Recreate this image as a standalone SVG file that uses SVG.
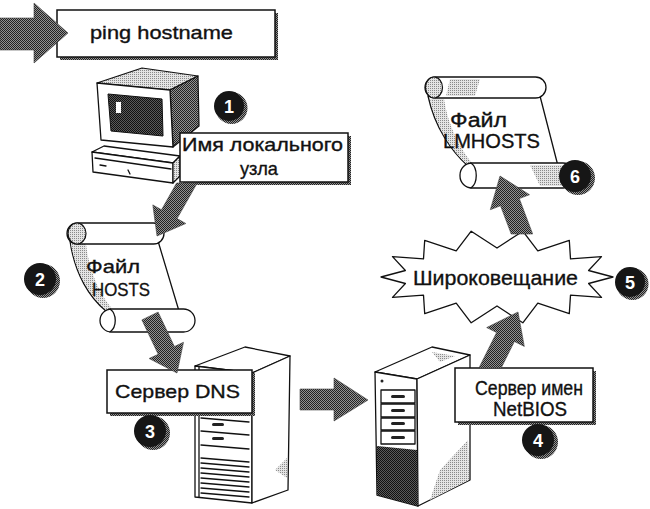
<svg xmlns="http://www.w3.org/2000/svg" width="650" height="509" viewBox="0 0 650 509">
  <defs>
    <!-- dithered fills used for arrows, shadows and shading -->
    <pattern id="dither" width="2" height="2" patternUnits="userSpaceOnUse">
      <rect width="2" height="2" fill="#929292"/>
      <rect width="1" height="1" fill="#222"/>
      <rect x="1" y="1" width="1" height="1" fill="#222"/>
    </pattern>
    <pattern id="ltdither" width="2" height="2" patternUnits="userSpaceOnUse">
      <rect width="2" height="2" fill="#e4e4e4"/>
      <rect width="1" height="1" fill="#8a8a8a"/>
    </pattern>
    <pattern id="dkdither" width="2" height="2" patternUnits="userSpaceOnUse">
      <rect width="2" height="2" fill="#5a5a5a"/>
      <rect width="1" height="1" fill="#111"/>
      <rect x="1" y="1" width="1" height="1" fill="#111"/>
    </pattern>
    <style>
      .box { fill:#fff; stroke:#111; stroke-width:1.5; }
      .shadow { fill:url(#dither); }
      .ln { fill:none; stroke:#111; stroke-width:1.3; stroke-linejoin:round; stroke-linecap:round; }
      .wf { fill:#fff; stroke:#111; stroke-width:1.3; stroke-linejoin:round; }
      .lt { fill:url(#ltdither); stroke:#111; stroke-width:1.2; stroke-linejoin:round; }
      .md { fill:url(#dither); stroke:#111; stroke-width:1.2; stroke-linejoin:round; }
      .lbl { font-family:"Liberation Sans", Arial, Helvetica, sans-serif; fill:#111; stroke:#111; stroke-width:0.35; }
      .arrow { fill:url(#dither); stroke:#444; stroke-width:0.6; stroke-linejoin:round; }
      .core { fill:#161616; }
      .num { font-family:"Liberation Sans", Arial, Helvetica, sans-serif; font-weight:bold; font-size:18px; fill:#fff; text-anchor:middle; }
      .slot { fill:#222; }
    </style>
  </defs>

  <rect width="650" height="509" fill="#fff"/>

  <!-- command box -->
  <g id="ping">
    <rect class="shadow" x="60" y="13" width="218" height="47"/>
    <rect class="box" x="57" y="10" width="218" height="47"/>
    <text class="lbl" x="90" y="39" style="font-size:19px" textLength="143" lengthAdjust="spacingAndGlyphs">ping hostname</text>
  </g>

  <!-- workstation -->
  <g id="computer">
    <polygon class="wf" points="92,152 104,146 180,156 173,163"/>
    <polygon class="wf" points="92,152 173,163 173,183 93,172"/>
    <polygon class="lt" points="173,163 180,156 180,176 173,183"/>
    <path class="ln" d="M95,158 L171,169" stroke-width="0.9"/>
    <path class="ln" d="M100,165 L106,166 M128,170 L130,174" stroke-width="0.8"/>
    <polygon class="lt" points="97,83 142,68 198,76 170,90"/>
    <polygon class="md" points="170,90 198,76 199,126 173,147"/>
    <polygon class="wf" points="97,83 170,90 173,147 101,140"/>
    <polygon points="108,94 162,99 163,136 111,131" fill="url(#dkdither)" stroke="#111" stroke-width="1"/>
    <rect x="116" y="102" width="5" height="11" fill="#fff"/>
  </g>

  <!-- local host name label -->
  <g id="local-name">
    <rect class="shadow" x="183" y="136" width="168" height="49"/>
    <rect class="box" x="180" y="133" width="168" height="49"/>
    <text class="lbl" x="182" y="151" style="font-size:18.5px" textLength="161" lengthAdjust="spacingAndGlyphs">Имя локального</text>
    <text class="lbl" x="240" y="175" style="font-size:18.5px" textLength="38" lengthAdjust="spacingAndGlyphs">узла</text>
  </g>

  <!-- HOSTS file scroll -->
  <g id="hosts">
    <path class="wf" d="M70,241 L158,241 L179,311 L106,311 C90,298 75,275 70,241 Z"/>
    <path d="M71,244 L86,244 C89,270 98,292 113,310 L106,310 C91,297 76,275 71,244 Z" fill="url(#ltdither)"/>
    <rect class="wf" x="67" y="223" width="97" height="21" rx="10.5"/>
    <ellipse class="lt" cx="77" cy="233.5" rx="9" ry="10.5"/>
    <rect class="wf" x="100" y="309" width="95" height="23" rx="11.5"/>
    <path class="ln" d="M110,309 C117,314 117,327 110,332"/>
    <text class="lbl" x="86" y="273" style="font-size:19px" textLength="54" lengthAdjust="spacingAndGlyphs">Файл</text>
    <text class="lbl" x="92" y="296" style="font-size:19px" textLength="58" lengthAdjust="spacingAndGlyphs">HOSTS</text>
  </g>

  <!-- DNS server -->
  <g id="dns">
    <polygon class="wf" points="195,366 245,347 290,356 252,373"/>
    <polygon class="wf" points="195,366 252,373 252,503 195,497"/>
    <polygon class="wf" points="252,373 290,356 288,490 252,503"/>
    <path d="M275,470 L287,458 L287,478 Z" fill="url(#ltdither)"/>
    <path class="ln" d="M199,367 L199,497" stroke-width="0.9"/>
    <path class="ln" d="M201,418 L249,422 M201,431 L249,435 M201,445 L249,449" stroke-width="1"/>
    <rect class="slot" x="212" y="423" width="12" height="3" rx="1.5"/>
    <rect class="slot" x="212" y="437" width="12" height="3" rx="1.5"/>
    <path class="ln" d="M201,458 L249,462 M201,463 L249,467 M201,468 L249,472 M201,473 L249,477 M201,478 L249,482 M201,483 L249,487 M201,488 L249,492 M201,493 L249,497" stroke-width="0.8"/>
    <rect class="shadow" x="110" y="373" width="145" height="43"/>
    <rect class="box" x="107" y="370" width="145" height="43"/>
    <text class="lbl" x="115" y="398" style="font-size:19px" textLength="125" lengthAdjust="spacingAndGlyphs">Сервер DNS</text>
  </g>

  <!-- NetBIOS name server -->
  <g id="netbios">
    <polygon class="wf" points="375,372 432,347 470,355 417,379"/>
    <path d="M432,352 L455,356 L440,362 Z" fill="url(#ltdither)"/>
    <polygon class="wf" points="375,372 417,379 418,506 377,495"/>
    <polygon class="wf" points="417,379 470,355 470,480 418,506"/>
    <path d="M440,470 L468,440 L469,480 L430,500 Z" fill="url(#ltdither)"/>
    <circle cx="382" cy="381" r="1.5" fill="#222"/>
    <rect class="wf" x="381" y="390" width="34" height="13" stroke-width="1"/>
    <rect class="wf" x="381" y="404" width="34" height="13" stroke-width="1"/>
    <rect class="wf" x="381" y="418" width="34" height="12" stroke-width="1"/>
    <rect class="wf" x="381" y="431" width="34" height="13" stroke-width="1"/>
    <rect class="slot" x="391" y="395" width="14" height="3" rx="1.5"/>
    <rect class="slot" x="391" y="409" width="14" height="3" rx="1.5"/>
    <rect class="slot" x="391" y="422" width="14" height="3" rx="1.5"/>
    <rect class="slot" x="391" y="436" width="14" height="3" rx="1.5"/>
    <path d="M377,446 L417,450 L418,506 L377,495 Z" fill="url(#dkdither)"/>
    <rect class="shadow" x="458" y="371" width="138" height="54"/>
    <rect class="box" x="455" y="368" width="138" height="54"/>
    <text class="lbl" x="475" y="395" style="font-size:20px" textLength="108" lengthAdjust="spacingAndGlyphs">Сервер имен</text>
    <text class="lbl" x="493" y="416" style="font-size:20px" textLength="74" lengthAdjust="spacingAndGlyphs">NetBIOS</text>
  </g>

  <!-- broadcast burst -->
  <g id="broadcast">
    <polygon class="wf" points="613,277 588.6,283.5 601.5,297.4 570.5,295.1 569.3,313.7 537.8,303.1 522.8,322.8 497,306 471.2,322.8 456.2,303.1 424.7,313.7 423.5,295.1 392.5,297.4 405.4,283.5 381,277 405.4,270.5 392.5,256.6 423.5,258.9 424.7,240.3 456.2,250.9 471.2,231.2 497,248 522.8,231.2 537.8,250.9 569.3,240.3 570.5,258.9 601.5,256.6 588.6,270.5"/>
    <text class="lbl" x="413" y="285" style="font-size:21px" textLength="165" lengthAdjust="spacingAndGlyphs">Широковещание</text>
  </g>

  <!-- LMHOSTS file scroll -->
  <g id="lmhosts">
    <path class="wf" d="M428,96 L540,96 L558,166 L468,166 C452,152 435,128 428,96 Z"/>
    <path d="M430,99 L444,99 C448,125 460,150 474,165 L468,165 C452,151 436,128 430,99 Z" fill="url(#ltdither)"/>
    <rect class="wf" x="425" y="77" width="121" height="21" rx="10.5"/>
    <path d="M450,79 L480,79 L475,96 L446,96 Z" fill="url(#ltdither)"/>
    <ellipse class="lt" cx="434" cy="87.5" rx="8.5" ry="10.5"/>
    <rect class="wf" x="460" y="163" width="115" height="25" rx="12"/>
    <path d="M530,165 L565,165 L565,186 L540,186 Z" fill="url(#ltdither)"/>
    <path class="ln" d="M471,163 C478,168 478,183 471,188"/>
    <text class="lbl" x="450" y="127" style="font-size:20px" textLength="57" lengthAdjust="spacingAndGlyphs">Файл</text>
    <text class="lbl" x="443" y="148" style="font-size:20px" textLength="97" lengthAdjust="spacingAndGlyphs">LMHOSTS</text>
  </g>

  <!-- flow arrows -->
  <g id="connectors">
    <polygon class="arrow" points="0,18 34,18 34,3 68,33 34,63 34,50 0,50"/>
    <polygon class="arrow" points="176.6,183 161.5,209.8 152.8,204.9 157,236 185.8,223.5 177.1,218.6 197.2,183"/>
    <polygon class="arrow" points="141.9,319.9 158.2,354.3 149.1,358.5 177,373 183.5,342.3 174.4,346.5 158.1,312.1"/>
    <polygon class="arrow" points="300,389 334,389 334,378 368,400 334,421 334,410 300,410"/>
    <polygon class="arrow" points="478.9,368 496.6,332.5 486.7,327.6 518,312 524.3,346.4 514.4,341.5 501.2,368"/>
    <polygon class="arrow" points="511.2,234 500.5,205.8 490.3,209.7 500,176 529.5,194.7 519.3,198.6 532.7,234"/>
  </g>

  <!-- step numbers -->
  <g id="step1" transform="translate(229,106)">
    <circle cx="2.5" cy="2" r="16" fill="url(#dither)"/>
    <circle class="core" r="15"/>
    <text class="num" y="6.5">1</text>
  </g>
  <g id="step2" transform="translate(40,279)">
    <circle cx="3" cy="2" r="17" fill="url(#dither)"/>
    <circle class="core" r="16"/>
    <text class="num" y="6.5">2</text>
  </g>
  <g id="step3" transform="translate(150,431)">
    <circle cx="3" cy="2" r="17" fill="url(#dither)"/>
    <circle class="core" r="16"/>
    <text class="num" y="6.5">3</text>
  </g>
  <g id="step4" transform="translate(538,440)">
    <circle cx="3" cy="2" r="17" fill="url(#dither)"/>
    <circle class="core" r="16"/>
    <text class="num" y="6.5">4</text>
  </g>
  <g id="step5" transform="translate(630,282)">
    <circle cx="2.5" cy="2" r="16" fill="url(#dither)"/>
    <circle class="core" r="15"/>
    <text class="num" y="6.5">5</text>
  </g>
  <g id="step6" transform="translate(575,176)">
    <circle cx="3" cy="2" r="17" fill="url(#dither)"/>
    <circle class="core" r="16"/>
    <text class="num" y="6.5">6</text>
  </g>
</svg>
